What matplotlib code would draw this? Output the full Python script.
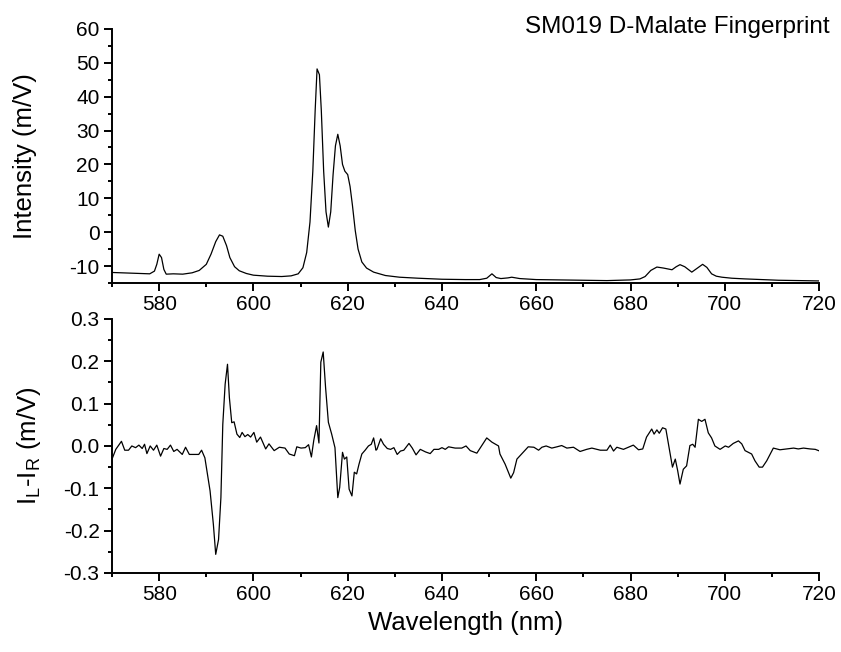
import matplotlib
matplotlib.use("Agg")
import matplotlib.pyplot as plt
from matplotlib.ticker import MultipleLocator, FormatStrFormatter

plt.rcParams['font.family'] = ['Liberation Sans', 'DejaVu Sans']
plt.rcParams['axes.unicode_minus'] = False
plt.rcParams['mathtext.fontset'] = 'custom'
plt.rcParams['mathtext.rm'] = 'Liberation Sans'

# Total luminescence spectrum
wl_top = [570, 572, 574, 576, 578, 579, 579.5, 580, 580.5, 581, 581.5, 583, 585, 587,
          588.5, 590, 591, 592, 592.8, 593.5, 594.3, 595, 596, 597, 598.5, 600, 603,
          606, 608, 609.5, 610.5, 611.3, 612, 612.6, 613.1, 613.5, 614.0, 614.4, 614.9,
          615.4, 615.9, 616.4, 616.9, 617.4, 617.9, 618.4, 618.9, 619.4, 620.0, 620.5,
          621.0, 621.6, 622.2, 623, 624, 625.5, 628, 631, 635, 640, 645, 648, 649.5,
          650.6, 651.5, 652.5, 654, 654.8, 656.5, 660, 665, 670, 675, 680, 682, 683.1,
          684.3, 685.6, 687, 688.8, 689.7, 690.5, 691.5, 693, 694.2, 695.3, 696.2,
          697.2, 698.2, 699.4, 701.5, 704.3, 707.9, 711.4, 716, 720]
int_top = [-11.9, -12.0, -12.1, -12.2, -12.3, -11.5, -9.5, -6.5, -7.5, -11.0, -12.4,
           -12.3, -12.4, -12.0, -11.3, -9.5, -6.5, -2.8, -0.8, -1.2, -4.0, -7.5, -10.2,
           -11.4, -12.2, -12.7, -13.0, -13.1, -12.9, -12.3, -10.5, -6.0, 3.0, 18.0, 36.0,
           48.2, 46.5, 36.0, 18.0, 6.0, 1.5, 6.0, 17.0, 25.5, 28.9, 25.5, 20.0, 18.0,
           17.0, 13.5, 8.0, 0.5, -5.0, -8.8, -10.6, -11.8, -12.8, -13.3, -13.6, -13.9,
           -14.0, -14.0, -13.6, -12.3, -13.4, -13.7, -13.5, -13.3, -13.7, -14.0, -14.1,
           -14.2, -14.3, -14.1, -13.8, -13.1, -11.3, -10.3, -10.6, -11.1, -10.2, -9.6,
           -10.2, -11.8, -10.6, -9.5, -10.4, -12.3, -13.0, -13.3, -13.6, -13.8, -14.0,
           -14.2, -14.3, -14.4]

# Circularly polarised difference spectrum
wl_cpl = [570.0, 570.8, 572.0, 572.7, 573.5, 574.2, 575.0, 575.7, 576.4, 576.9, 577.4,
          578.1, 578.8, 579.5, 580.3, 581.0, 581.7, 582.4, 583.1, 583.8, 584.9, 585.6,
          586.4, 587.3, 588.4, 589.0, 589.7, 590.8, 591.5, 592.0, 592.6, 593.1, 593.5,
          594.0, 594.5, 594.9, 595.4, 595.9, 596.5, 597.1, 597.6, 598.2, 598.8, 599.4,
          600.1, 600.7, 601.5, 602.6, 603.3, 604.4, 605.5, 606.7, 607.6, 608.7, 609.2,
          610.1, 611.0, 611.7, 612.3, 612.8, 613.4, 613.9, 614.3, 614.8, 615.3, 615.9,
          616.6, 617.3, 617.9, 618.3, 618.9, 619.3, 619.8, 620.3, 620.9, 621.4, 621.9,
          622.4, 623.0, 623.7, 624.4, 625.0, 625.5, 626.0, 626.2, 627.0, 627.6, 628.4,
          629.1, 629.8, 630.5, 631.2, 631.9, 633.0, 633.7, 634.5, 635.4, 636.5, 637.5,
          638.3, 639.3, 640.0, 640.7, 641.4, 642.8, 644.2, 645.1, 646.0, 647.4, 648.4,
          649.5, 650.6, 652.0, 652.3, 653.4, 654.6, 655.2, 655.9, 656.9, 658.3, 659.5,
          660.5, 661.2, 662.1, 663.3, 664.4, 665.4, 666.5, 667.9, 669.3, 670.7, 671.8,
          673.6, 675.0, 675.7, 676.4, 677.1, 678.5, 680.6, 681.7, 682.6, 683.4, 684.5,
          685.0, 685.6, 686.1, 686.8, 687.5, 688.3, 688.9, 689.5, 690.0, 690.5, 691.2,
          691.9, 692.6, 693.2, 693.7, 694.4, 695.1, 695.8, 696.5, 697.2, 697.9, 699.0,
          700.1, 700.8, 701.8, 702.9, 703.6, 704.3, 705.0, 705.7, 706.4, 707.3, 708.0,
          708.9, 710.3, 711.7, 713.1, 714.6, 715.6, 716.7, 718.1, 719.2, 719.9]
dif_cpl = [-0.031, -0.008, 0.011, -0.010, -0.010, 0.000, -0.004, 0.002, -0.006, 0.004,
           -0.018, 0.000, -0.010, 0.002, -0.024, -0.006, -0.008, 0.002, -0.013, -0.008,
           -0.020, -0.003, -0.020, -0.020, -0.020, -0.010, -0.028, -0.106, -0.185,
           -0.256, -0.221, -0.122, 0.051, 0.146, 0.193, 0.114, 0.055, 0.057, 0.028,
           0.020, 0.032, 0.022, 0.027, 0.021, 0.032, 0.009, 0.021, -0.007, 0.005,
           -0.011, -0.003, -0.005, -0.019, -0.023, -0.002, -0.005, -0.004, 0.003,
           -0.026, 0.013, 0.048, 0.007, 0.198, 0.222, 0.139, 0.056, 0.028, -0.004,
           -0.122, -0.098, -0.015, -0.031, -0.026, -0.102, -0.118, -0.062, -0.066,
           -0.043, -0.019, -0.010, 0.000, 0.004, 0.019, -0.010, -0.008, 0.017, 0.004,
           -0.006, -0.008, -0.004, -0.020, -0.012, -0.010, 0.006, -0.005, -0.021,
           -0.008, -0.014, -0.018, -0.008, -0.008, -0.004, -0.008, -0.002, -0.005,
           -0.005, 0.000, -0.011, -0.017, 0.000, 0.019, 0.009, 0.000, -0.019, -0.043,
           -0.076, -0.063, -0.031, -0.019, -0.002, -0.003, -0.010, -0.003, 0.000,
           -0.005, -0.002, 0.001, -0.005, -0.003, -0.013, -0.008, -0.005, -0.010,
           -0.010, 0.002, -0.012, -0.003, -0.008, 0.002, -0.009, -0.007, 0.021,
           0.040, 0.028, 0.038, 0.030, 0.043, 0.040, -0.011, -0.050, -0.031, -0.058,
           -0.090, -0.055, -0.047, 0.001, 0.004, -0.003, 0.063, 0.058, 0.063, 0.031,
           0.019, 0.000, -0.008, 0.000, -0.003, 0.006, 0.012, 0.005, -0.011, -0.015,
           -0.019, -0.035, -0.050, -0.050, -0.035, -0.005, -0.009, -0.007, -0.005,
           -0.007, -0.005, -0.007, -0.008, -0.011]

x_ticks = [580, 600, 620, 640, 660, 680, 700, 720]

fig = plt.figure(figsize=(8.41, 6.52), dpi=100)
ax1 = fig.add_axes([0.1332, 0.566, 0.8407, 0.3896])
ax2 = fig.add_axes([0.1332, 0.1212, 0.8407, 0.3896])

for ax in (ax1, ax2):
    for side in ('top', 'right'):
        ax.spines[side].set_visible(False)
    for side in ('left', 'bottom'):
        ax.spines[side].set_linewidth(1.4)
    ax.set_xlim(570, 720)
    ax.set_xticks(x_ticks)
    ax.xaxis.set_minor_locator(MultipleLocator(10))
    ax.tick_params(which='major', direction='out', length=6, width=1.4,
                   labelsize=15, pad=3)
    ax.tick_params(which='minor', direction='out', length=3, width=1.4)
    ax.set_facecolor('white')

ax1.plot(wl_top, int_top, color='black', lw=0.9)
ax1.set_ylim(-15, 60)
ax1.yaxis.set_minor_locator(MultipleLocator(5))
ax1.set_yticks(range(-10, 61, 10))
ax1.set_ylabel('Intensity (m/V)', fontsize=18.5, labelpad=23)
ax1.text(1.0156, 0.984, 'SM019 D-Malate Fingerprint', transform=ax1.transAxes,
         ha='right', va='baseline', fontsize=17.5)

ax2.plot(wl_cpl, dif_cpl, color='black', lw=0.9)
ax2.set_ylim(-0.3, 0.3)
ax2.yaxis.set_major_locator(MultipleLocator(0.1))
ax2.yaxis.set_minor_locator(MultipleLocator(0.05))
ax2.yaxis.set_major_formatter(FormatStrFormatter('%.1f'))
ax2.set_ylabel(r'I$_\mathregular{L}$-I$_\mathregular{R}$ (m/V)', fontsize=18.5,
               labelpad=15)
ax2.set_xlabel('Wavelength (nm)', fontsize=18.5, labelpad=5)

fig.savefig('out.png', dpi=100, facecolor='white')
